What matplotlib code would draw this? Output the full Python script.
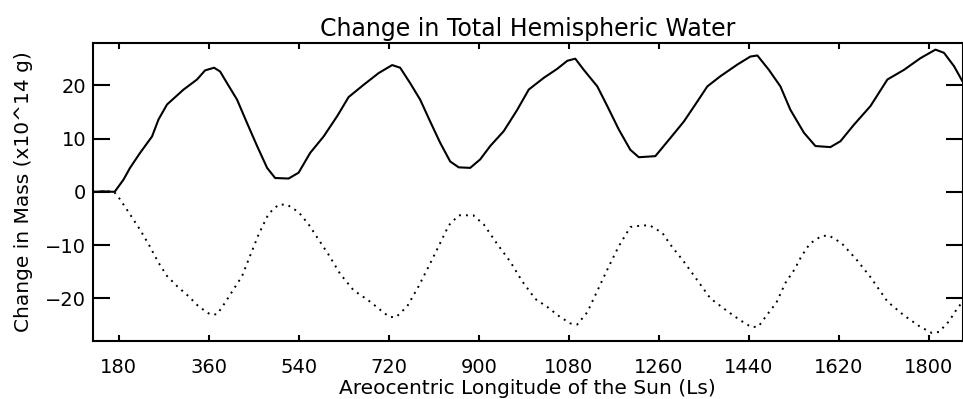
import numpy as np
import matplotlib.pyplot as plt

# total water (solid) vs Ls
ls_total = [130, 150, 170, 173, 190, 203, 223, 247, 260, 277, 310, 337, 353, 371, 383,
            397, 417, 437, 457, 477, 493, 520, 540, 563, 590, 617, 640, 670, 700, 727,
            743, 763, 783, 803, 823, 843, 860, 883, 903, 923, 950, 977, 1000, 1030, 1057,
            1077, 1093, 1110, 1137, 1157, 1180, 1203, 1220, 1253, 1283, 1310, 1333, 1357,
            1383, 1417, 1443, 1457, 1480, 1503, 1523, 1550, 1573, 1603, 1623, 1650, 1683,
            1717, 1750, 1783, 1813, 1830, 1850, 1869]
mass_total = [0.0, 0.1, 0.0, 0.1, 2.3, 4.5, 7.3, 10.4, 13.6, 16.4, 19.2, 21.1, 22.8, 23.3, 22.6,
              20.4, 17.3, 12.9, 8.6, 4.5, 2.6, 2.5, 3.6, 7.3, 10.4, 14.2, 17.8, 20.1, 22.3, 23.8,
              23.3, 20.4, 17.3, 13.2, 9.2, 5.7, 4.6, 4.5, 6.1, 8.6, 11.4, 15.4, 19.2, 21.4, 23.1,
              24.6, 25.0, 22.9, 19.8, 16.1, 11.7, 7.9, 6.5, 6.7, 10.1, 13.2, 16.4, 19.8,
              21.7, 23.9, 25.4, 25.6, 22.9, 19.8, 15.4, 11.1, 8.6, 8.4, 9.5, 12.6, 16.1,
              21.1, 22.9, 25.1, 26.7, 26.1, 23.6, 20.4]

# dotted curve
ls_dot = [130, 150, 165, 173, 183, 200, 223, 240, 260, 277, 297, 320, 340, 363, 377, 393,
          410, 427, 443, 460, 480, 500, 517, 540, 560, 583, 600, 623, 650, 677, 700, 710,
          723, 735, 757, 780, 800, 820, 840, 860, 889, 910, 937, 963, 987, 1013, 1037,
          1060, 1083, 1097, 1117, 1140, 1160, 1180, 1203, 1227, 1242, 1267, 1283, 1310,
          1337, 1363, 1397, 1421, 1445, 1459, 1477, 1495, 1513, 1531, 1545, 1562, 1585,
          1600, 1625, 1655, 1683, 1717, 1750, 1782, 1806, 1820, 1840, 1857, 1869]
mass_dot = [0.0, 0.1, 0.1, -0.2, -1.4, -3.8, -7.1, -9.8, -13.3, -15.8, -17.7, -19.6, -21.5, -23.0, -23.0, -20.8,
            -18.3, -15.8, -12.0, -8.0, -4.1, -2.4, -2.4, -3.8, -6.1, -9.4, -11.8, -15.4, -18.5, -20.2, -21.9, -22.7,
            -23.5, -23.5, -21.5, -17.7, -14.0, -10.2, -6.3, -4.4, -4.4, -6.1, -9.8, -13.1, -16.8, -20.1, -21.6,
            -23.3, -24.7, -24.9, -22.6, -18.0, -14.0, -10.2, -6.6, -6.3, -6.3, -7.7, -9.9, -13.1,
            -16.6, -20.0, -22.4, -24.0, -25.4, -25.3, -23.0, -20.8, -17.1, -14.6, -12.1, -9.7, -8.3,
            -8.2, -9.6, -12.7, -16.0, -20.6, -23.2, -25.3, -26.5, -26.3, -24.3, -21.8, -20.5]

xticks = np.arange(180, 1801, 180)
yticks = [-20, -10, 0, 10, 20]

plt.rcParams['font.family'] = 'DejaVu Sans'

fig = plt.figure(figsize=(9.63, 3.99), dpi=100)
ax = fig.add_axes([93/963, 1 - 341/399, 869.5/963, (341 - 42.7)/399])

ax.plot(ls_total, mass_total, 'k-', lw=1.5)
ax.plot(ls_dot, mass_dot, color='k', lw=1.4, linestyle=(0, (1, 2.6)))

ax.set_xlim(129, 1867)
ax.set_ylim(-28, 28)
ax.set_xticks(xticks)
ax.set_yticks(yticks)
ax.tick_params(axis='both', direction='in', width=1.5, top=True, right=True, labelsize=14)
ax.tick_params(axis='x', length=4.3, pad=12)
ax.tick_params(axis='y', length=12, pad=5)
for s in ax.spines.values():
    s.set_linewidth(1.5)

ax.set_title('Change in Total Hemispheric Water', fontsize=17, pad=4.5)
ax.set_xlabel('Areocentric Longitude of the Sun (Ls)', fontsize=14.5, labelpad=2)
ax.set_ylabel('Change in Mass (x10^14 g)', fontsize=14.5, labelpad=9)

plt.savefig('out.png', dpi=100)
